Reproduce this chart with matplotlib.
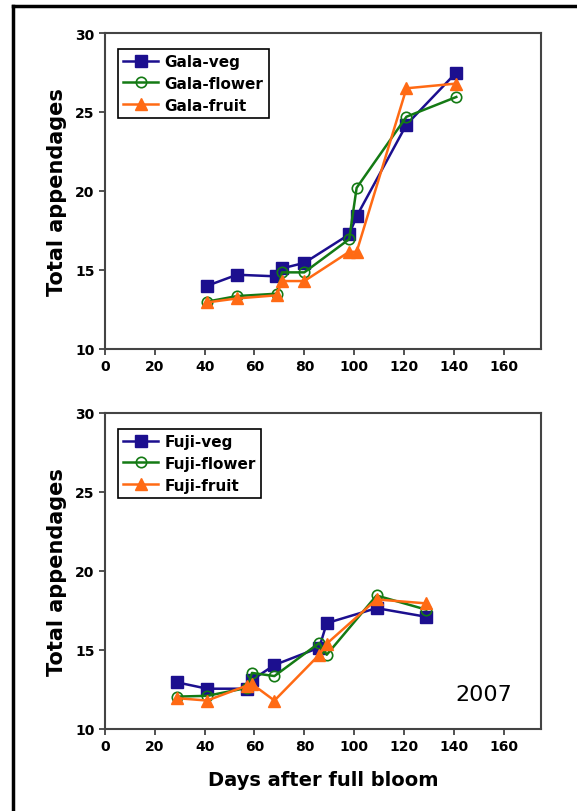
import numpy as np
import matplotlib
matplotlib.use('Agg')
import matplotlib.pyplot as plt
from matplotlib.lines import Line2D

# Gala data (days after full bloom, total appendages)
gala_veg_x = [41, 53, 68.5, 71, 80, 98, 101, 121, 141]
gala_veg_y = [14.0, 14.7, 14.6, 15.1, 15.45, 17.25, 18.4, 24.2, 27.5]
gala_flower_x = [41, 53, 69, 71, 80, 98, 101, 121, 141]
gala_flower_y = [13.0, 13.35, 13.5, 14.85, 14.85, 16.95, 20.2, 24.7, 25.95]
gala_fruit_x = [41, 53, 69, 71, 80, 98, 101, 121, 141]
gala_fruit_y = [12.95, 13.2, 13.4, 14.3, 14.3, 16.15, 16.15, 26.5, 26.8]

# Fuji data
fuji_veg_x = [29, 41, 57, 59, 68, 86, 89, 109, 129]
fuji_veg_y = [12.95, 12.55, 12.55, 13.1, 14.05, 15.15, 16.7, 17.65, 17.1]
fuji_flower_x = [29, 41, 57, 59, 68, 86, 89, 109, 129]
fuji_flower_y = [12.05, 12.1, 12.6, 13.55, 13.35, 15.45, 14.7, 18.45, 17.55]
fuji_fruit_x = [29, 41, 57, 59, 68, 86, 89, 109, 129]
fuji_fruit_y = [11.95, 11.8, 12.75, 12.85, 11.8, 14.7, 15.4, 18.2, 17.95]

xticks = [0, 20, 40, 60, 80, 100, 120, 140, 160]
yticks = [10, 15, 20, 25, 30]

navy = '#1C0F8F'
green = '#147A14'
orange = '#FF6A14'

fig = plt.figure(figsize=(5.77, 8.12), dpi=100)

# frame around the figure (top and left edges visible)
fig.add_artist(Line2D([12.5 / 577, 12.5 / 577], [0, 1 - 6.5 / 812], color='black', lw=2.5,
                      transform=fig.transFigure))
fig.add_artist(Line2D([12.5 / 577, 1], [1 - 6.5 / 812, 1 - 6.5 / 812], color='black', lw=2.5,
                      transform=fig.transFigure))

ax1 = fig.add_axes([105 / 577, 1 - 350 / 812, 436 / 577, 316 / 812])
ax2 = fig.add_axes([105 / 577, 1 - 730 / 812, 436 / 577, 316 / 812])


def draw(ax, veg, flower, fruit, names):
    ax.plot(veg[0], veg[1], color=navy, lw=1.8, marker='s', ms=8, label=names[0])
    ax.plot(flower[0], flower[1], color=green, lw=1.8, marker='o', ms=7.5,
            mfc='none', mec=green, mew=1.2, label=names[1])
    ax.plot(fruit[0], fruit[1], color=orange, lw=1.8, marker='^', ms=9, label=names[2])
    ax.set_xlim(0, 175)
    ax.set_ylim(10, 30)
    ax.set_xticks(xticks)
    ax.set_yticks(yticks)
    ax.tick_params(direction='out', length=4, width=1.2, color='#333333', labelsize=10)
    for lab in ax.get_xticklabels() + ax.get_yticklabels():
        lab.set_fontweight('bold')
    for sp in ax.spines.values():
        sp.set_color('#444444')
        sp.set_linewidth(1.5)
    ax.set_ylabel('Total appendages', fontsize=15, fontweight='bold', labelpad=6)
    leg = ax.legend(loc='upper left', bbox_to_anchor=(0.012, 0.975), fancybox=False,
                    edgecolor='black', framealpha=1, handlelength=2.3, handletextpad=0.4,
                    borderpad=0.35, labelspacing=0.45, prop={'weight': 'bold', 'size': 11})
    leg.get_frame().set_linewidth(1.2)


draw(ax1, (gala_veg_x, gala_veg_y), (gala_flower_x, gala_flower_y),
     (gala_fruit_x, gala_fruit_y), ['Gala-veg', 'Gala-flower', 'Gala-fruit'])
draw(ax2, (fuji_veg_x, fuji_veg_y), (fuji_flower_x, fuji_flower_y),
     (fuji_fruit_x, fuji_fruit_y), ['Fuji-veg', 'Fuji-flower', 'Fuji-fruit'])

ax2.text(0.933, 0.11, '2007', transform=ax2.transAxes, ha='right', va='center', fontsize=16)
ax2.set_xlabel('Days after full bloom', fontsize=14, fontweight='bold', labelpad=12)

fig.savefig('out.png', dpi=100)
